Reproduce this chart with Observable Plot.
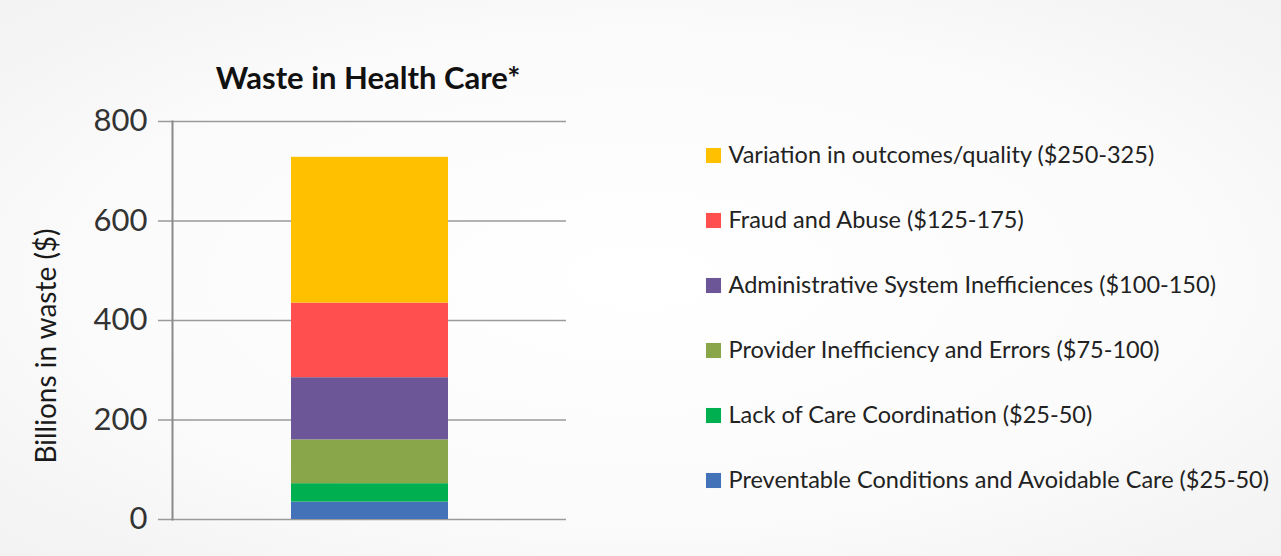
<!DOCTYPE html>
<html>
<head>
<meta charset="utf-8">
<script src="https://cdn.jsdelivr.net/npm/d3@7"></script>
<script src="https://cdn.jsdelivr.net/npm/@observablehq/plot@0.6"></script>
<style>
  html, body { margin: 0; padding: 0; background: #f8f8f8; }
  #wrap { position: relative; width: 1281px; height: 556px; overflow: hidden;
          background: radial-gradient(ellipse at 50% 50%, #ffffff 0%, #fbfbfb 60%, #f2f2f2 100%); }
  #title { position: absolute; left: 168px; width: 400px; top: 58px; text-align: center;
           font-family: Lato, sans-serif; font-weight: 700; font-size: 31px; color: #111; }
  #ylabel { position: absolute; left: 45px; top: 346px; width: 0; height: 0; }
  #ylabel span { position: absolute; left: 0; top: 0; white-space: nowrap;
           transform: translate(-50%, -50%) rotate(-90deg);
           font-family: Lato, sans-serif; font-size: 28px; color: #1a1a1a; }
  #chart { position: absolute; left: 0; top: 0; }
  #legend { position: absolute; left: 690px; top: 120px; }
</style>
</head>
<body>
<div id="wrap">
  <div id="chart"></div>
  <div id="title">Waste in Health Care*</div>
  <div id="ylabel"><span></span></div>
  <div id="legend"></div>
</div>
<script>
// Categories bottom-to-top in the stack
const categories = [
  "Preventable Conditions and Avoidable Care ($25-50)",
  "Lack of Care Coordination ($25-50)",
  "Provider Inefficiency and Errors ($75-100)",
  "Administrative System Inefficiences ($100-150)",
  "Fraud and Abuse ($125-175)",
  "Variation in outcomes/quality ($250-325)"
];
const values = [35, 37, 88, 125, 150, 293];
const colors = ["#4472B8", "#00B050", "#8AA64B", "#6D5697", "#FF4F4F", "#FFC000"];
const yTicks = [0, 200, 400, 600, 800];
const yLabel = "Billions in waste ($)";
const barName = "Total";

document.querySelector("#ylabel span").textContent = yLabel;

const data = categories.map((c, i) => ({category: c, value: values[i]}));

const chart = Plot.plot({
  width: 600,
  height: 556,
  marginLeft: 172,
  marginRight: 34,
  marginTop: 121,
  marginBottom: 37,
  style: {fontFamily: "Lato, sans-serif", background: "transparent", overflow: "visible"},
  x: {domain: [barName], padding: 0.43, axis: null},
  y: {domain: [0, 800], axis: null},
  color: {domain: categories, range: colors},
  marks: [
    Plot.ruleY(yTicks, {stroke: "#9a9a9a", strokeWidth: 1.6, insetLeft: -14}),
    Plot.barY(data, {x: () => barName, y: "value", fill: "category"}),
    Plot.axisY({ticks: yTicks, tickSize: 0, tickPadding: 25, fontSize: 31, fill: "#333", label: null}),
    Plot.frame({anchor: "left", stroke: "#8a8a8a", strokeWidth: 2})
  ]
});
document.getElementById("chart").appendChild(chart);

const legendOrder = categories.slice().reverse();
const legend = Plot.plot({
  width: 591,
  height: 400,
  margin: 0,
  style: {fontFamily: "Lato, sans-serif", background: "transparent", overflow: "visible"},
  x: {domain: [0, 1], range: [23, 591], axis: null},
  y: {type: "point", domain: legendOrder, range: [35, 360], padding: 0, axis: null},
  color: {domain: categories, range: colors},
  marks: [
    Plot.dot(legendOrder, {x: () => 0, y: d => d, symbol: "square", r: 8.5, fill: d => d}),
    Plot.text(legendOrder, {x: () => 0, y: d => d, dx: 15, textAnchor: "start", fontSize: 23.5, fill: "#222"})
  ]
});
document.getElementById("legend").appendChild(legend);
</script>
</body>
</html>
